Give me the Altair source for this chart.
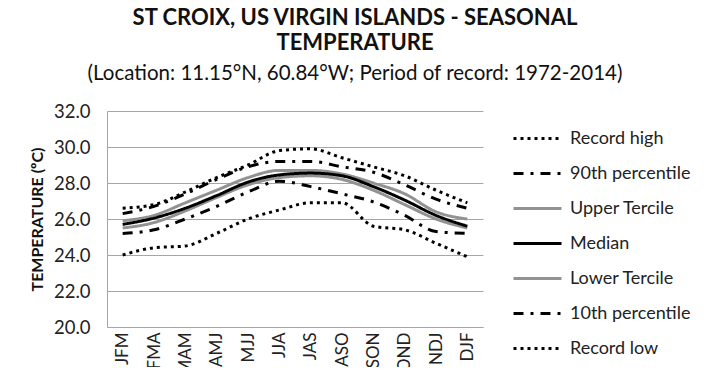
import altair as alt
import pandas as pd

seasons = ["JFM", "FMA", "MAM", "AMJ", "MJJ", "JJA", "JAS", "ASO", "SON", "OND", "NDJ", "DJF"]
series_names = ["Record high", "90th percentile", "Upper Tercile", "Median",
                "Lower Tercile", "10th percentile", "Record low"]

record_high = [26.6, 26.8, 27.5, 28.3, 29.0, 29.8, 29.9, 29.4, 28.9, 28.4, 27.6, 26.9]
p90 = [26.3, 26.7, 27.4, 28.2, 28.9, 29.2, 29.2, 28.9, 28.6, 27.9, 27.1, 26.6]
upper_tercile = [25.9, 26.2, 26.9, 27.6, 28.3, 28.7, 28.7, 28.5, 28.0, 27.4, 26.4, 26.0]
median = [25.7, 26.05, 26.6, 27.3, 28.05, 28.45, 28.55, 28.4, 27.8, 27.05, 26.2, 25.6]
lower_tercile = [25.5, 25.8, 26.45, 27.2, 27.9, 28.3, 28.4, 28.2, 27.6, 26.8, 26.0, 25.5]
p10 = [25.2, 25.4, 26.0, 26.7, 27.5, 28.1, 27.8, 27.4, 26.95, 26.2, 25.3, 25.2]
record_low = [24.0, 24.4, 24.5, 25.2, 26.0, 26.5, 26.9, 26.9, 25.6, 25.4, 24.65, 23.9]

values = [record_high, p90, upper_tercile, median, lower_tercile, p10, record_low]
draw_order = [2, 4, 0, 1, 5, 6, 3]

rows = []
for k in draw_order:
    for i, s in enumerate(seasons):
        rows.append({"season": s, "series": series_names[k], "temp": values[k][i], "ord": k})
df = pd.DataFrame(rows)

colors = ["#000000", "#000000", "#929292", "#000000", "#929292", "#000000", "#000000"]
dashes = [[3, 4], [10, 7, 3, 7], [1, 0], [1, 0], [1, 0], [10, 7, 3, 7], [3, 4]]
widths = [3, 3, 3.5, 3, 3.5, 3, 3]

font = "Lato"

chart = alt.Chart(df).mark_line(interpolate="monotone").encode(
    x=alt.X("season:N", sort=seasons, title=None,
            axis=alt.Axis(labelAngle=270, labelFontSize=17, labelColor="#222",
                          labelPadding=5, ticks=False, domainColor="#a6a6a6",
                          labelFont=font, labelBaseline="middle", labelAlign="right")),
    y=alt.Y("temp:Q", scale=alt.Scale(domain=[20, 32], nice=False),
            title="TEMPERATURE (ºC)",
            axis=alt.Axis(values=[20, 22, 24, 26, 28, 30, 32], format=".1f",
                          labelFontSize=18.5, labelColor="#222", labelFont=font,
                          ticks=False, labelPadding=17, domainColor="#a6a6a6",
                          gridColor="#a6a6a6", titleFontSize=16, titleFont=font,
                          titleFontWeight="bold", titleColor="#111", titlePadding=8)),
    color=alt.Color("series:N", scale=alt.Scale(domain=series_names, range=colors),
                    legend=alt.Legend(title=None, orient="none", legendX=405, legendY=2,
                                      symbolType="stroke", symbolSize=2304,
                                      labelFontSize=18, labelFont=font, labelColor="#222",
                                      rowPadding=-13, labelOffset=7)),
    strokeDash=alt.StrokeDash("series:N", scale=alt.Scale(domain=series_names, range=dashes)),
    strokeWidth=alt.StrokeWidth("series:N", scale=alt.Scale(domain=series_names, range=widths)),
    order=alt.Order("ord:Q"),
).properties(
    width=376, height=216,
    title=alt.TitleParams(
        text=["ST CROIX, US VIRGIN ISLANDS - SEASONAL", "TEMPERATURE"],
        subtitle="(Location: 11.15°N, 60.84°W; Period of record: 1972-2014)",
        fontSize=22, font=font, fontWeight="bold", color="#111", lineHeight=25,
        subtitleFontSize=20.5, subtitleFont=font, subtitleColor="#111", subtitlePadding=9,
        anchor="middle", frame="group", dx=60, offset=17),
    autosize=alt.AutoSizeParams(type="none"),
    padding={"left": 99, "top": 103, "right": 219, "bottom": 40},
).configure_view(stroke=None)

chart.save("out.html", embed_options={"renderer": "svg", "actions": False})
